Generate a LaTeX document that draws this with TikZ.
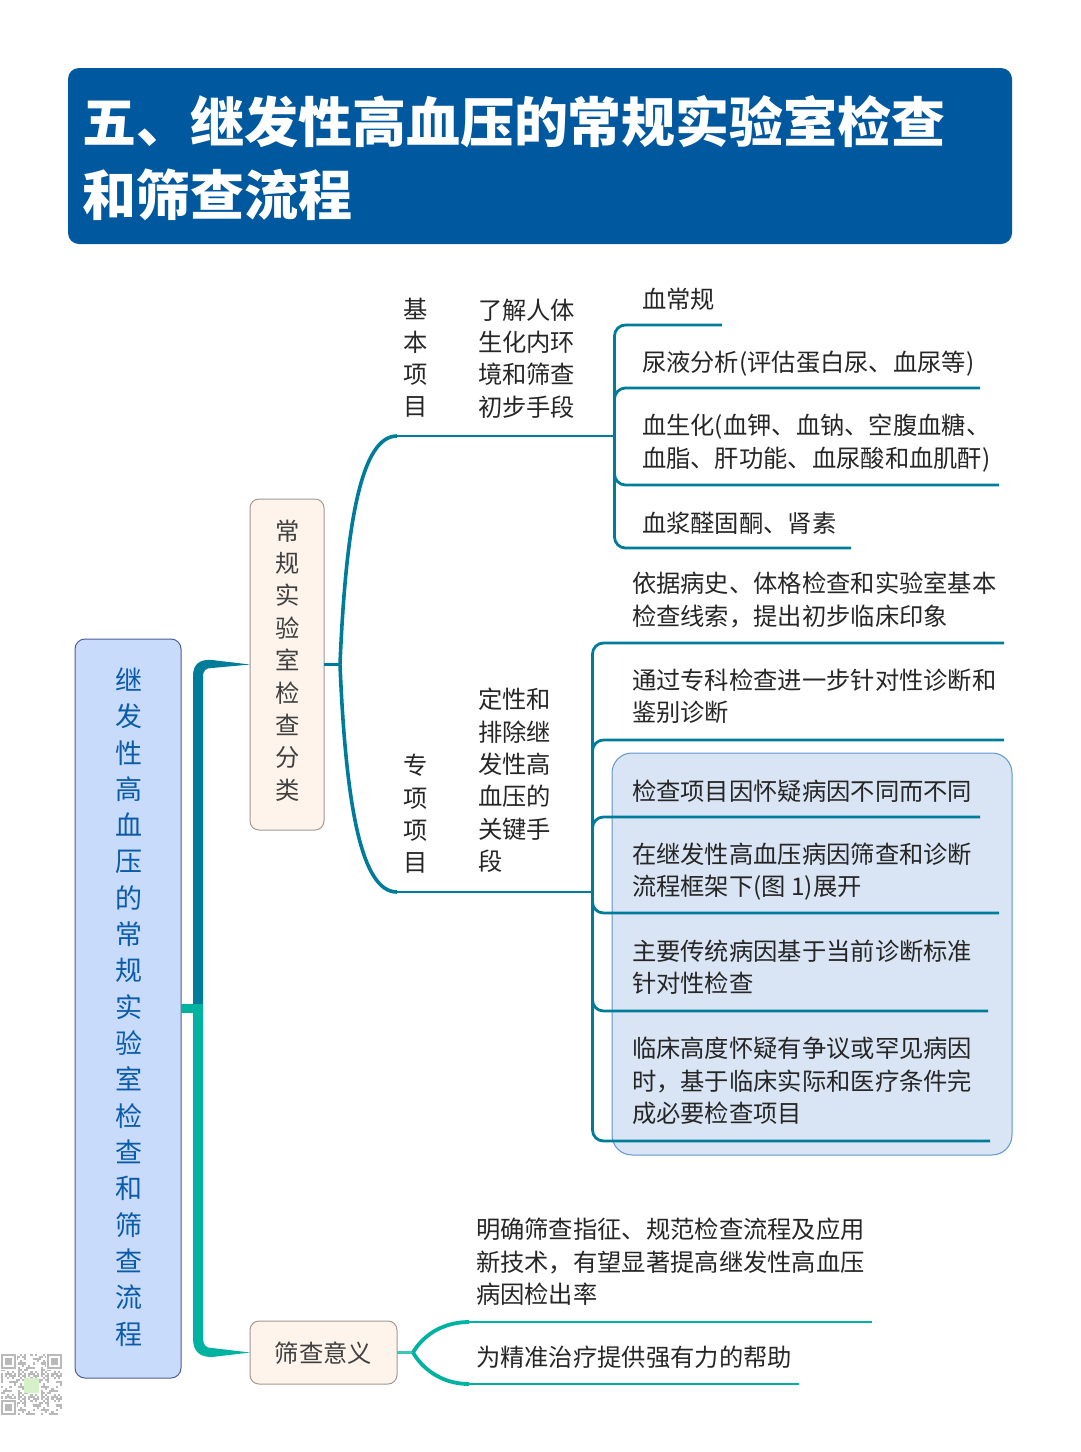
\documentclass[tikz,border=0pt]{standalone}
\usepackage{fontspec}
\setmainfont{Noto Sans CJK SC}
\usetikzlibrary{positioning}
\definecolor{titleblue}{HTML}{00589F}
\definecolor{rootfill}{HTML}{C9DBFB}
\definecolor{rootline}{HTML}{4A5F96}
\definecolor{rootink}{HTML}{0B5CA8}
\definecolor{subfill}{HTML}{FEF4EC}
\definecolor{subline}{HTML}{A09A92}
\definecolor{branchblue}{HTML}{007C9B}
\definecolor{branchteal}{HTML}{00B3A0}
\definecolor{panelfill}{HTML}{D9E5F4}
\definecolor{panelline}{HTML}{5F95D0}
\definecolor{qrgray}{HTML}{B9B9B9}
\begin{document}
\begin{tikzpicture}[x=1pt, y=-1pt, every node/.style={inner sep=0pt, outer sep=0pt},
body/.style={anchor=west, align=left, text=black!85, font=\fontsize{24.3}{32.4}\selectfont},
stack/.style={align=center, text=black!85, font=\fontsize{24.3}{32.4}\selectfont},
subbox/.style={draw=subline, line width=1pt, fill=subfill, rounded corners=9pt, stack, text=black!75},
leafblue/.style={draw=branchblue, line width=2.8pt, rounded corners=11pt},
leafteal/.style={draw=branchteal, line width=2.6pt}]
\useasboundingbox (0,0) rectangle (1080,1452);
\node[fill=titleblue, rounded corners=11pt, minimum width=944pt, minimum height=176pt] (title) at (540,156) {};
\node[anchor=west, align=left, text=white, font=\fontsize{54}{73}\selectfont\bfseries] (titletxt) at (82,158.5) {五、继发性高血压的常规实验室检查\\和筛查流程};
\node[draw=rootline, line width=1pt, fill=rootfill, rounded corners=10pt, minimum width=106pt, minimum height=739pt] (root) at (128,1008.5) {};
\node[align=center, text=rootink, font=\fontsize{27}{36.33}\selectfont] (roottxt) at (128.5,1007) {继\\发\\性\\高\\血\\压\\的\\常\\规\\实\\验\\室\\检\\查\\和\\筛\\查\\流\\程};
\node[subbox, minimum width=74pt, minimum height=331pt] (routine) at (287,664.5) {};
\node[stack, text=black!75] (routinetxt) at (287.5,660.5) {常\\规\\实\\验\\室\\检\\查\\分\\类};
\node[subbox, minimum width=147pt, minimum height=63pt] (meaning) at (323.5,1352.5) {};
\node[stack, text=black!75] (meaningtxt) at (323.5,1353) {筛查意义};
\fill[branchblue] (203,1004) -- (193,1004) -- (193,676) .. controls (193,664) and (200,659) .. (212,660) -- (routine.west) -- (212,668) .. controls (206,668) and (203,670) .. (203,677) -- cycle;
\fill[branchteal] (root.east) ++(0,-4.5) rectangle (203,1013);
\fill[branchteal] (203,1004) -- (193,1004) -- (193,1338) .. controls (193,1351) and (199,1357) .. (212,1357) -- (meaning.west) -- (212,1348) .. controls (206,1348) and (203,1345) .. (203,1338) -- cycle;
\node[draw=panelline, line width=1pt, fill=panelfill, rounded corners=20pt, minimum width=400pt, minimum height=402pt] (panel) at (812,954) {};
\coordinate (fork1) at (340,664.5);
\coordinate (basic) at (397,436);
\coordinate (special) at (397,892);
\coordinate (hub1) at (614.5,436);
\coordinate (hub2) at (592.5,892);
\coordinate (fork2) at (413,1352.5);
\foreach \i/\j/\k in {1/722/325, 2/980/388, 3/999/485, 4/851/548}{
\coordinate (a\i) at (\j,\k);
\draw[leafblue] (hub1) |- (a\i);}
\foreach \i/\j/\k in {1/1004/643, 2/1004/740, 3/980/817, 4/999/913, 5/988/1011, 6/990/1141}{
\coordinate (b\i) at (\j,\k);
\draw[leafblue] (hub2) |- (b\i);}
\draw[branchblue, line width=3.6pt] (routine.east) -- (fork1);
\draw[branchblue, line width=3.6pt] (fork1) .. controls (346,520) and (362,436) .. (basic);
\draw[branchblue, line width=3.6pt] (fork1) .. controls (346,809) and (362,892) .. (special);
\draw[branchblue, line width=2.8pt] (basic) -- (hub1) (special) -- (hub2);
\coordinate (c1) at (469,1322);
\coordinate (c2) at (469,1384);
\coordinate (c3) at (872,1322);
\coordinate (c4) at (799,1384);
\draw[branchteal!75, line width=3.4pt] (meaning.east) -- (fork2);
\draw[branchteal, line width=3.8pt] (fork2) .. controls (422,1337) and (441,1322) .. (c1);
\draw[branchteal, line width=3.8pt] (fork2) .. controls (422,1368) and (441,1384) .. (c2);
\draw[leafteal] (c1) -- (c3) (c2) -- (c4);
\node[stack] (basiclbl) at (415.5,358) {基\\本\\项\\目};
\node[body] (basicaim) at (478,358.5) {了解人体\\生化内环\\境和筛查\\初步手段};
\node[stack] (speciallbl) at (415.5,814) {专\\项\\项\\目};
\node[body] (specialaim) at (478,780.5) {定性和\\排除继\\发性高\\血压的\\关键手\\段};
\node[body] (t1) at (642,299) {血常规};
\node[body] (t2) at (642,363.5) {尿液分析(评估蛋白尿、血尿等)};
\node[body] (t3) at (642,443) {血生化(血钾、血钠、空腹血糖、\\血脂、肝功能、血尿酸和血肌酐)};
\node[body] (t4) at (642,523) {血浆醛固酮、肾素};
\node[body] (s1) at (632,600) {依据病史、体格检查和实验室基本\\检查线索，提出初步临床印象};
\node[body] (s2) at (632,696) {通过专科检查进一步针对性诊断和\\鉴别诊断};
\node[body] (s3) at (632,791) {检查项目因怀疑病因不同而不同};
\node[body] (s4) at (632,871.5) {在继发性高血压病因筛查和诊断\\流程框架下(图 1)展开};
\node[body] (s5) at (632,967) {主要传统病因基于当前诊断标准\\针对性检查};
\node[body] (s6) at (632,1081) {临床高度怀疑有争议或罕见病因\\时，基于临床实际和医疗条件完\\成必要检查项目};
\node[body] (m1) at (476,1262) {明确筛查指征、规范检查流程及应用\\新技术，有望显著提高继发性高血压\\病因检出率};
\node[body] (m2) at (476,1357) {为精准治疗提供强有力的帮助};
\foreach \i in {0,...,28}{
\foreach \j in {0,...,28}{
\pgfmathparse{int(mod(\i*\i*7+\j*\j*3+\i*\j*5+\i,11))}
\ifnum\pgfmathresult<5
\fill[qrgray] (1+2.1*\i,1354+2.1*\j) rectangle +(2.1,2.1);
\fi}}
\foreach \i/\j in {1/1354, 1/1400, 47/1354}{
\fill[white] (\i-1,\j-1) rectangle +(17,17);
\draw[qrgray, line width=2pt] (\i+1,\j+1) rectangle +(12.5,12.5);
\fill[qrgray] (\i+4,\j+4) rectangle +(6.5,6.5);}
\fill[green!45!olive!22] (24,1378) rectangle (39,1393);
\end{tikzpicture}
\end{document}
